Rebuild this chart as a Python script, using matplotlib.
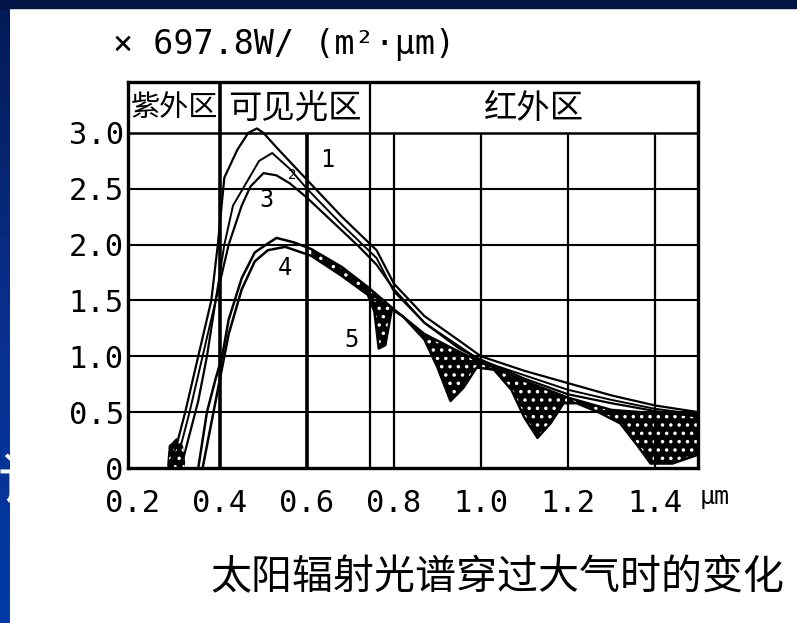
import matplotlib
matplotlib.use("Agg")
import matplotlib.pyplot as plt
import numpy as np
from matplotlib.colors import LinearSegmentedColormap
from matplotlib.patches import Rectangle

plt.rcParams['font.family'] = ['DejaVu Sans Mono', 'Noto Sans CJK SC']
plt.rcParams['hatch.linewidth'] = 1.3
cjk = ['Noto Sans CJK SC', 'DejaVu Sans']

# axis ticks / grid
x_ticks = [0.2, 0.4, 0.6, 0.8, 1.0, 1.2, 1.4]
x_tick_labels = ["0.2", "0.4", "0.6", "0.8", "1.0", "1.2", "1.4"]
y_ticks = [0, 0.5, 1.0, 1.5, 2.0, 2.5, 3.0]
y_tick_labels = ["0", "0.5", "1.0", "1.5", "2.0", "2.5", "3.0"]
v_grid = [0.6, 0.8, 1.0, 1.2, 1.4]
h_grid = [0.5, 1.0, 1.5, 2.0, 2.5]
regions = ["紫外区", "可见光区", "红外区"]
region_edges = [0.19, 0.4, 0.745, 1.5]

# curve 1 - outside the atmosphere
c1_x = [0.28, 0.30, 0.32, 0.35, 0.38, 0.395, 0.41, 0.44, 0.465, 0.485, 0.50, 0.53, 0.60, 0.68, 0.76, 0.80, 0.87, 0.95, 1.00, 1.10, 1.20, 1.30, 1.40, 1.50]
c1_y = [0.0, 0.2, 0.5, 1.0, 1.5, 2.0, 2.6, 2.85, 3.0, 3.04, 3.0, 2.87, 2.58, 2.25, 1.95, 1.65, 1.36, 1.14, 1.0, 0.87, 0.76, 0.65, 0.56, 0.50]
# curve 2
c2_x = [0.29, 0.31, 0.33, 0.36, 0.39, 0.41, 0.43, 0.46, 0.49, 0.52, 0.56, 0.60, 0.68, 0.76, 0.80, 0.87, 0.95, 1.00, 1.10, 1.20, 1.30, 1.40, 1.50]
c2_y = [0.0, 0.2, 0.5, 1.0, 1.5, 2.0, 2.35, 2.55, 2.75, 2.82, 2.68, 2.5, 2.18, 1.88, 1.58, 1.3, 1.09, 0.96, 0.83, 0.70, 0.61, 0.53, 0.48]
# curve 3
c3_x = [0.31, 0.33, 0.35, 0.37, 0.39, 0.42, 0.45, 0.47, 0.50, 0.53, 0.56, 0.60, 0.66, 0.72, 0.76, 0.80, 0.87, 0.95, 1.00, 1.10, 1.20, 1.30, 1.40, 1.50]
c3_y = [0.0, 0.3, 0.6, 1.0, 1.5, 2.0, 2.35, 2.52, 2.64, 2.62, 2.55, 2.42, 2.2, 1.98, 1.82, 1.6, 1.3, 1.07, 0.97, 0.8, 0.66, 0.58, 0.51, 0.46]
# curve 4
c4_x = [0.35, 0.37, 0.39, 0.405, 0.42, 0.45, 0.48, 0.51, 0.53, 0.57, 0.61, 0.68, 0.74, 0.80, 0.87, 0.95, 1.00, 1.10, 1.20, 1.30, 1.40, 1.50]
c4_y = [0.0, 0.5, 0.8, 1.0, 1.33, 1.7, 1.93, 2.01, 2.06, 2.02, 1.96, 1.8, 1.62, 1.42, 1.2, 1.04, 0.95, 0.78, 0.63, 0.52, 0.49, 0.48]
# curve 5 - with absorption bands
c5_x = [0.36, 0.38, 0.40, 0.42, 0.45, 0.48, 0.51, 0.55, 0.61, 0.68, 0.74, 0.755, 0.765, 0.78, 0.795, 0.82, 0.87, 0.90, 0.93, 0.96, 0.99, 1.03, 1.07, 1.10, 1.13, 1.16, 1.19, 1.22, 1.27, 1.32, 1.36, 1.39, 1.44, 1.47, 1.50]
c5_y = [0.0, 0.4, 0.8, 1.2, 1.6, 1.85, 1.95, 1.98, 1.9, 1.72, 1.55, 1.4, 1.07, 1.1, 1.42, 1.36, 1.15, 0.9, 0.6, 0.72, 0.9, 0.88, 0.7, 0.45, 0.27, 0.4, 0.58, 0.58, 0.5, 0.4, 0.2, 0.04, 0.04, 0.08, 0.12]
# ozone blob near 0.3
oz_x = [0.278, 0.282, 0.30, 0.315, 0.32, 0.318]
oz_y = [0.0, 0.2, 0.27, 0.2, 0.05, 0.0]

curve_labels = ["1", "2", "3", "4", "5"]
label_x = [0.646, 0.565, 0.508, 0.55, 0.703]
label_y = [2.76, 2.62, 2.40, 1.79, 1.15]

fig = plt.figure(figsize=(7.97, 6.23), dpi=100)
fig.patch.set_facecolor('white')

# slide background pieces
strip = fig.add_axes([0, 0, 10 / 797, 1])
cmap = LinearSegmentedColormap.from_list('slide', ['#021a55', '#0a2f8c', '#0039a6'])
strip.imshow(np.linspace(0, 1, 100).reshape(-1, 1), aspect='auto', cmap=cmap, extent=[0, 1, 0, 1])
strip.text(-0.3, 0.225, '记', color='white', fontsize=40, family=cjk, ha='left', va='center',
           transform=strip.transAxes, clip_on=True)
strip.set_xlim(0, 1)
strip.set_ylim(0, 1)
strip.axis('off')
fig.add_artist(Rectangle((0, 615 / 623), 1, 8 / 623, transform=fig.transFigure, color='#001545'))

ax = fig.add_axes([128 / 797, 155 / 623, 570 / 797, 386 / 623])
ax.set_xlim(0.1885, 1.499)
ax.set_ylim(0, 3.456)

for s in ax.spines.values():
    s.set_linewidth(2.4)

ax.hlines(h_grid, 0.1885, 1.499, color='black', lw=1.5)
ax.hlines(3.0, 0.1885, 1.499, color='black', lw=1.8)
ax.vlines(v_grid, 0, 3.0, color='black', lw=1.6)
ax.vlines(0.6, 0, 3.0, color='black', lw=2.6)
ax.vlines([0.4, 0.745], 0, 3.456, color='black', lw=[2.6, 1.6])

for i, name in enumerate(regions):
    fs = 21 if i == 0 else 24
    ax.text((region_edges[i] + region_edges[i + 1]) / 2, 3.22, name, family=cjk, fontsize=fs,
            ha='center', va='center')

# shaded absorption bands
sel4 = [i for i, v in enumerate(c4_x) if v >= 0.6]
sel5 = [i for i, v in enumerate(c5_x) if v >= 0.6]
poly_x = [c4_x[i] for i in sel4] + [c5_x[i] for i in sel5][::-1]
poly_y = [c4_y[i] for i in sel4] + [c5_y[i] for i in sel5][::-1]
ax.fill(poly_x, poly_y, facecolor='black', edgecolor='white', hatch='..', lw=0)
ax.fill(oz_x, oz_y, facecolor='black', edgecolor='white', hatch='..', lw=0)

ax.plot(c1_x, c1_y, color='black', lw=1.6)
ax.plot(c2_x, c2_y, color='black', lw=1.4)
ax.plot(c3_x, c3_y, color='black', lw=1.6)
ax.plot(c4_x, c4_y, color='black', lw=1.8)
ax.plot(c5_x, c5_y, color='black', lw=1.8)

for t, lx, ly in zip(curve_labels, label_x, label_y):
    ax.text(lx, ly, t, fontsize=17 if t != "2" else 10, ha='center', va='center')

ax.set_xticks(x_ticks)
ax.set_xticklabels(x_tick_labels, fontsize=22)
ax.set_yticks(y_ticks)
ax.set_yticklabels(y_tick_labels, fontsize=22)
ax.tick_params(length=0, pad=3)
ax.tick_params(axis='x', pad=15)

fig.text(113 / 797, 0.928, "× 697.8W/ (m²·μm)", fontsize=24, ha='left', va='center')
fig.text(715 / 797, 0.202, "μm", fontsize=18, ha='center', va='center')
fig.text(497 / 797, 0.072, "太阳辐射光谱穿过大气时的变化", family=cjk, fontsize=29.5, ha='center', va='center')

fig.savefig('out.png', dpi=100, facecolor='white')
